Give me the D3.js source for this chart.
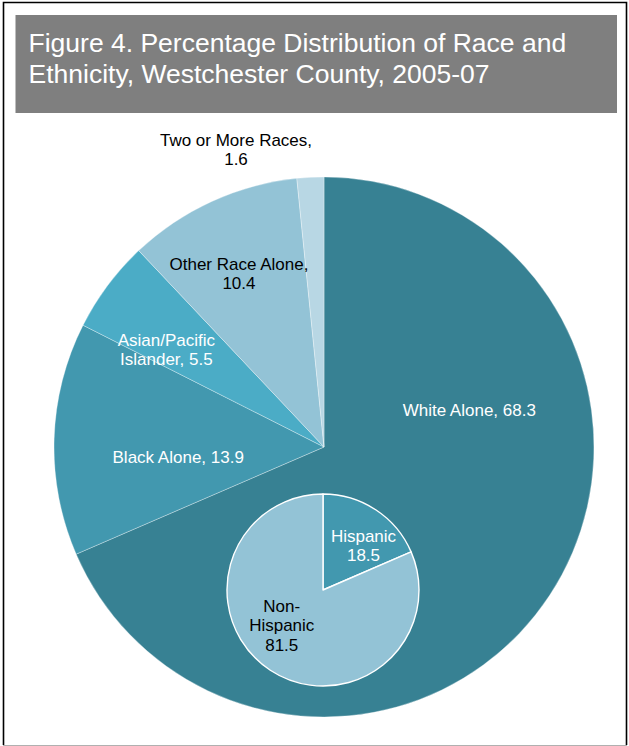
<!DOCTYPE html>
<html>
<head>
<meta charset="utf-8">
<script src="https://cdn.jsdelivr.net/npm/d3@7"></script>
<style>
  html, body { margin: 0; padding: 0; background: #fff; }
  svg { display: block; }
  text { font-family: "Liberation Sans", Arial, sans-serif; }
</style>
</head>
<body>
<svg id="chart" width="629" height="746"></svg>
<script>
// Race distribution (outer pie), percent
const raceCategories = ["White Alone", "Black Alone", "Asian/Pacific Islander", "Other Race Alone", "Two or More Races"];
const raceValues = [68.3, 13.9, 5.5, 10.4, 1.6];
const raceLabelLines = [
  ["White Alone, 68.3"],
  ["Black Alone, 13.9"],
  ["Asian/Pacific", "Islander, 5.5"],
  ["Other Race Alone,", "10.4"],
  ["Two or More Races,", "1.6"]
];

// Ethnicity split (inner pie), percent
const ethnicCategories = ["Hispanic", "Non-Hispanic"];
const ethnicValues = [18.5, 81.5];
const ethnicLabelLines = [
  ["Hispanic", "18.5"],
  ["Non-", "Hispanic", "81.5"]
];

const titleLines = ["Figure 4. Percentage Distribution of Race and", "Ethnicity, Westchester County, 2005-07"];

// ---- layout & style ----
const W = 629, H = 746;
const outer = { cx: 324, cy: 447, r: 270 };
const inner = { cx: 323, cy: 590, r: 96 };
const raceColors = ["#378193", "#4298af", "#4bacc6", "#93c3d6", "#b8d7e4"];
const raceTextColors = ["#fff", "#fff", "#fff", "#000", "#000"];
const ethnicColors = ["#4298af", "#93c3d6"];
const ethnicTextColors = ["#fff", "#000"];
// label anchors (first-line baseline), as offsets from each pie centre in units of its radius
const raceLabelSpots = [[0.538, -0.115], [-0.54, 0.061], [-0.584, -0.374], [-0.315, -0.656], [-0.326, -1.114]];
const ethnicLabelSpots = [[0.422, -0.5], [-0.43, 0.232]];
const lineStep = 19.2;
const labelSize = 17;

const svg = d3.select("#chart");

// frame
svg.append("rect").attr("x", 0).attr("y", 0).attr("width", W).attr("height", H).attr("fill", "#fff");
svg.append("path")
  .attr("d", "M3.5,745 L3.5,2.5 L626.5,2.5 L626.5,745")
  .attr("fill", "none").attr("stroke", "#000").attr("stroke-width", 1.6);
svg.append("line").attr("x1", 3).attr("x2", 627).attr("y1", 745.5).attr("y2", 745.5)
  .attr("stroke", "#b0b0b0").attr("stroke-width", 1);

// title band
svg.append("rect").attr("x", 15.5).attr("y", 15).attr("width", 601.5).attr("height", 98)
  .attr("fill", "#7f7f7f");
svg.append("g").selectAll("text").data(titleLines).join("text")
  .attr("x", 28.5)
  .attr("y", (d, i) => 52 + i * 30.7)
  .attr("fill", "#fff")
  .attr("font-size", 26.5)
  .text(d => d);

// outer pie
const racePie = d3.pie().sort(null).value(d => d.v);
const raceArcs = racePie(raceCategories.map((c, i) => ({ c, v: raceValues[i], i })));
const raceArc = d3.arc().innerRadius(0).outerRadius(outer.r);

const gOuter = svg.append("g").attr("transform", `translate(${outer.cx},${outer.cy})`);
gOuter.selectAll("path").data(raceArcs).join("path")
  .attr("d", raceArc)
  .attr("fill", d => raceColors[d.data.i])
  .attr("stroke", "rgba(255,255,255,0.55)")
  .attr("stroke-width", 0.6);

// inner pie
const ethPie = d3.pie().sort(null).value(d => d.v);
const ethArcs = ethPie(ethnicCategories.map((c, i) => ({ c, v: ethnicValues[i], i })));
const ethArc = d3.arc().innerRadius(0).outerRadius(inner.r);

const gInner = svg.append("g").attr("transform", `translate(${inner.cx},${inner.cy})`);
gInner.selectAll("path").data(ethArcs).join("path")
  .attr("d", ethArc)
  .attr("fill", d => ethnicColors[d.data.i])
  .attr("stroke", "#fff")
  .attr("stroke-width", 1.4)
  .attr("stroke-linejoin", "round");

// labels
function drawLabels(g, radius, lines, spots, colors) {
  lines.forEach((ls, i) => {
    const t = g.append("text")
      .attr("text-anchor", "middle")
      .attr("font-size", labelSize)
      .attr("fill", colors[i]);
    ls.forEach((s, j) => {
      t.append("tspan")
        .attr("x", spots[i][0] * radius)
        .attr("y", spots[i][1] * radius + j * lineStep)
        .text(s);
    });
  });
}
drawLabels(gOuter, outer.r, raceLabelLines, raceLabelSpots, raceTextColors);
drawLabels(gInner, inner.r, ethnicLabelLines, ethnicLabelSpots, ethnicTextColors);
</script>
</body>
</html>
